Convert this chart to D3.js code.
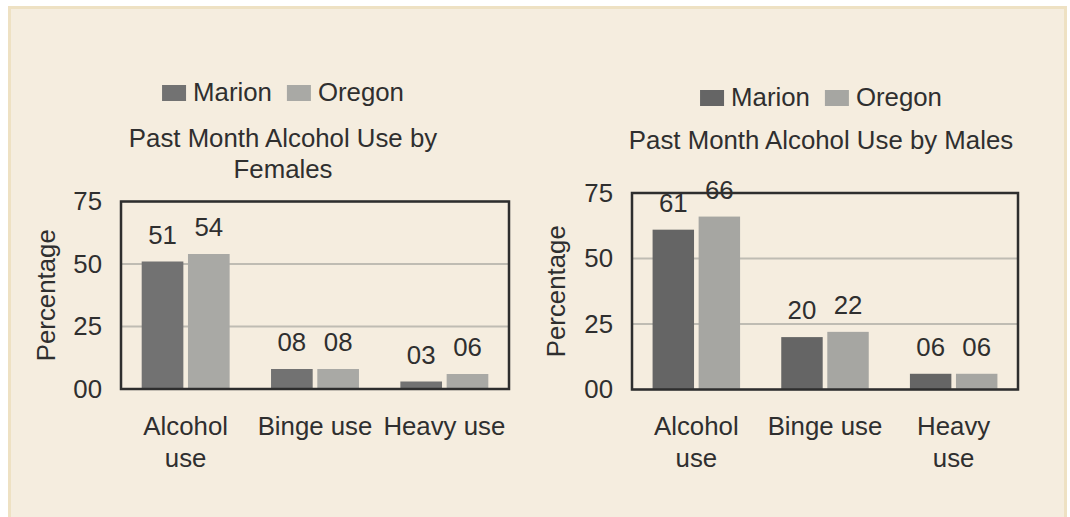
<!DOCTYPE html>
<html>
<head>
<meta charset="utf-8">
<script src="https://cdn.jsdelivr.net/npm/d3@7"></script>
<style>
  html, body { margin: 0; padding: 0; background: #ffffff; }
  svg text { font-family: "Liberation Sans", Arial, sans-serif; fill: #2f2f2f; }
</style>
</head>
<body>
<svg id="chart" width="1070" height="517"></svg>
<script>
// Data
const series = ["Marion", "Oregon"];
const categories = ["Alcohol use", "Binge use", "Heavy use"];
const femaleMarion = [51, 8, 3];
const femaleOregon = [54, 8, 6];
const maleMarion = [61, 20, 6];
const maleOregon = [66, 22, 6];
const yTicks = [0, 25, 50, 75];
const femaleTitle = ["Past Month Alcohol Use by", "Females"];
const maleTitle = ["Past Month Alcohol Use by Males"];
const femaleCategoryLines = [["Alcohol", "use"], ["Binge use"], ["Heavy use"]];
const maleCategoryLines = [["Alcohol", "use"], ["Binge use"], ["Heavy", "use"]];
const yLabel = "Percentage";

const fontSize = 25.8;
const fmt = d3.format("02d");

let svg = d3.select("#chart");

// beige panel behind both charts
svg.append("rect")
    .attr("x", 9.5)
    .attr("y", 7.5)
    .attr("width", 1056)
    .attr("height", 520)
    .attr("fill", "#f5eddf")
    .attr("stroke", "#eee1c3")
    .attr("stroke-width", 3);

function drawChart(opts) {
    let g = svg.append("g");
    let box = opts.box;

    let x0 = d3.scaleBand()
        .domain(categories)
        .range([box.left, box.right])
        .paddingInner(0.32)
        .paddingOuter(0.16);

    let x1 = d3.scaleBand()
        .domain(series)
        .range([0, x0.bandwidth()])
        .paddingInner(0.1);

    let y = d3.scaleLinear()
        .domain([0, 75])
        .range([box.bottom, box.top]);

    let color = d3.scaleOrdinal().domain(series).range(opts.colors);

    // gridlines
    g.append("g")
        .selectAll("line")
        .data(yTicks)
        .enter()
        .append("line")
        .attr("x1", box.left)
        .attr("x2", box.right)
        .attr("y1", function (d) { return y(d); })
        .attr("y2", function (d) { return y(d); })
        .attr("stroke", "#bfbcb3")
        .attr("stroke-width", 2);

    // bars
    let rows = categories.map(function (c, i) {
        return series.map(function (s, j) {
            return { cat: c, series: s, value: opts.values[j][i] };
        });
    });

    let groups = g.append("g")
        .selectAll("g")
        .data(rows)
        .enter()
        .append("g")
        .attr("transform", function (d) { return "translate(" + x0(d[0].cat) + ",0)"; });

    groups.selectAll("rect")
        .data(function (d) { return d; })
        .enter()
        .append("rect")
        .attr("x", function (d) { return x1(d.series); })
        .attr("y", function (d) { return y(d.value); })
        .attr("width", x1.bandwidth())
        .attr("height", function (d) { return y(0) - y(d.value); })
        .attr("fill", function (d) { return color(d.series); });

    // plot frame
    g.append("rect")
        .attr("x", box.left)
        .attr("y", box.top)
        .attr("width", box.right - box.left)
        .attr("height", box.bottom - box.top)
        .attr("fill", "none")
        .attr("stroke", "#2e2e2e")
        .attr("stroke-width", 2.5);

    // value labels
    groups.selectAll(".value")
        .data(function (d) { return d; })
        .enter()
        .append("text")
        .attr("class", "value")
        .attr("x", function (d) { return x1(d.series) + x1.bandwidth() / 2; })
        .attr("y", function (d) { return y(d.value) - 18; })
        .attr("text-anchor", "middle")
        .style("font-size", fontSize + "px")
        .text(function (d) { return fmt(d.value); });

    // y axis
    let yAxis = g.append("g")
        .attr("transform", "translate(" + box.left + ",0)")
        .call(d3.axisLeft(y).tickValues(yTicks).tickSize(0).tickPadding(19).tickFormat(fmt));
    yAxis.select(".domain").remove();
    yAxis.selectAll("text")
        .attr("font-family", null)
        .attr("fill", null)
        .style("font-size", fontSize + "px");

    // x axis, with wrapped labels
    let xAxis = g.append("g")
        .attr("transform", "translate(0," + box.bottom + ")")
        .call(d3.axisBottom(x0).tickSize(0).tickFormat(""));
    xAxis.select(".domain").remove();
    xAxis.selectAll(".tick text")
        .attr("fill", null)
        .attr("y", 0)
        .attr("dy", null)
        .style("font-size", fontSize + "px")
        .each(function (d, i) {
            let t = d3.select(this);
            opts.catLines[i].forEach(function (line, k) {
                t.append("tspan")
                    .attr("x", 0)
                    .attr("y", 45.5 + k * 32)
                    .text(line);
            });
        });

    // y axis title
    g.append("text")
        .attr("transform", "translate(" + opts.yLabelX + "," + (box.top + box.bottom) / 2 + ") rotate(-90)")
        .attr("text-anchor", "middle")
        .style("font-size", fontSize + "px")
        .text(yLabel);

    // chart title
    g.append("text")
        .attr("text-anchor", "middle")
        .style("font-size", fontSize + "px")
        .selectAll("tspan")
        .data(opts.title)
        .enter()
        .append("tspan")
        .attr("x", opts.centerX)
        .attr("y", function (d, i) { return opts.titleY + i * 31.5; })
        .text(function (d) { return d; });

    // legend
    let legend = g.append("g");
    let cursor = 0;
    series.forEach(function (s) {
        let item = legend.append("g").attr("transform", "translate(" + cursor + ",0)");
        item.append("rect")
            .attr("x", 0)
            .attr("y", -16)
            .attr("width", 24)
            .attr("height", 16)
            .attr("fill", color(s));
        let label = item.append("text")
            .attr("x", 31)
            .attr("y", 0)
            .style("font-size", fontSize + "px")
            .text(s);
        cursor += 31 + label.node().getComputedTextLength() + 15;
    });
    let legendWidth = cursor - 15;
    legend.attr("transform", "translate(" + (opts.centerX - legendWidth / 2) + "," + opts.legendY + ")");
}

drawChart({
    box: { left: 121, right: 509, top: 201.5, bottom: 389 },
    values: [femaleMarion, femaleOregon],
    colors: ["#727272", "#a9a9a5"],
    catLines: femaleCategoryLines,
    title: femaleTitle,
    centerX: 283,
    titleY: 146.5,
    legendY: 101,
    yLabelX: 55
});

drawChart({
    box: { left: 632, right: 1018, top: 193, bottom: 389.5 },
    values: [maleMarion, maleOregon],
    colors: ["#656565", "#a6a6a2"],
    catLines: maleCategoryLines,
    title: maleTitle,
    centerX: 821,
    titleY: 148.5,
    legendY: 106,
    yLabelX: 565
});
</script>
</body>
</html>
